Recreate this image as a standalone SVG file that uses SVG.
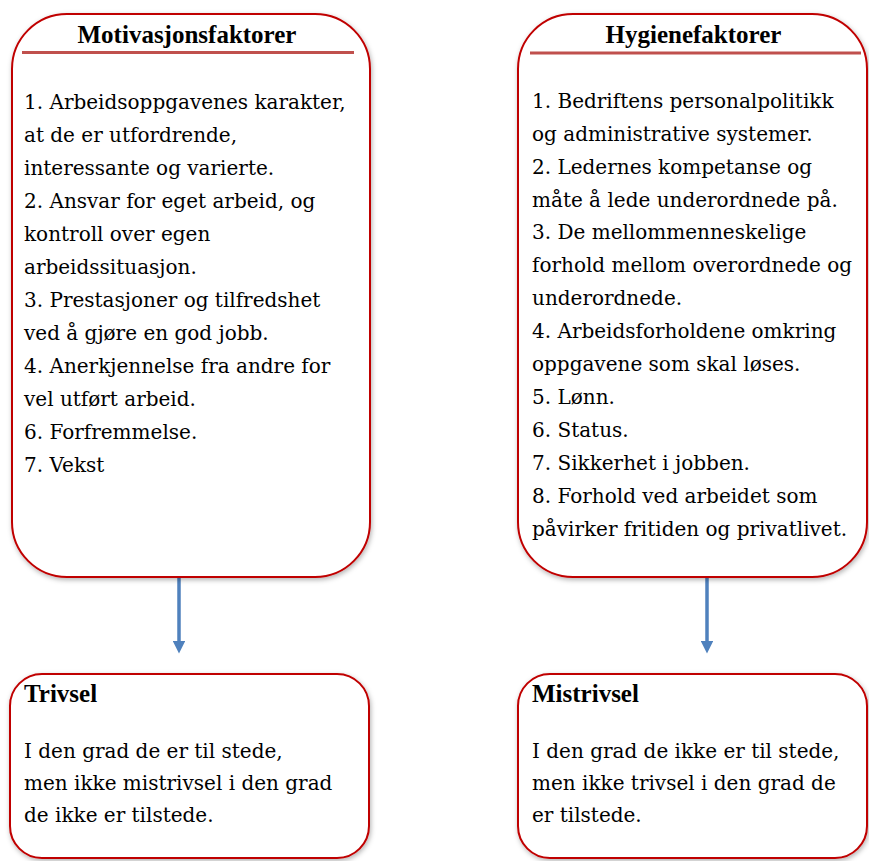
<svg xmlns="http://www.w3.org/2000/svg" width="869" height="861" viewBox="0 0 869 861">
  <defs>
    <filter id="sh" x="-10%" y="-10%" width="120%" height="120%">
      <feDropShadow dx="1" dy="2" stdDeviation="2.5" flood-color="#000" flood-opacity="0.3"/>
    </filter>
    <marker id="ah" markerWidth="3.6" markerHeight="3.6" refX="0" refY="1.8" orient="auto" markerUnits="strokeWidth">
      <path d="M0,0 L3.6,1.8 L0,3.6 Z" fill="#4f81bd"/>
    </marker>
  </defs>
  <style>
    .box { fill: #ffffff; stroke: #c00000; stroke-width: 2; filter: url(#sh); }
    .rule { stroke: #c0504d; stroke-width: 3; }
    text { font-family: "DejaVu Serif", serif; font-size: 20px; fill: #000; }
    .b { font-family: "Liberation Serif", serif; font-size: 25px; font-weight: bold; }
    .conn { stroke: #4f81bd; stroke-width: 3.5; fill: none; }
  </style>
  <rect width="869" height="861" fill="#ffffff"/>

  <g id="connectors">
    <line class="conn" x1="179" y1="578" x2="179" y2="641" marker-end="url(#ah)"/>
    <line class="conn" x1="707" y1="578" x2="707" y2="641" marker-end="url(#ah)"/>
  </g>

  <g id="motivasjonsfaktorer">
    <rect class="box" x="12" y="14" width="358" height="563" rx="55" ry="55"/>
    <text class="b" x="187" y="43" text-anchor="middle">Motivasjonsfaktorer</text>
    <line class="rule" x1="22" y1="52.5" x2="354" y2="52.5"/>
    <text x="24" y="109">1. Arbeidsoppgavenes karakter,</text>
    <text x="24" y="142">at de er utfordrende,</text>
    <text x="24" y="175">interessante og varierte.</text>
    <text x="24" y="208">2. Ansvar for eget arbeid, og</text>
    <text x="24" y="241">kontroll over egen</text>
    <text x="24" y="274">arbeidssituasjon.</text>
    <text x="24" y="307">3. Prestasjoner og tilfredshet</text>
    <text x="24" y="340">ved å gjøre en god jobb.</text>
    <text x="24" y="373">4. Anerkjennelse fra andre for</text>
    <text x="24" y="406">vel utført arbeid.</text>
    <text x="24" y="439">6. Forfremmelse.</text>
    <text x="24" y="472">7. Vekst</text>
  </g>

  <g id="hygienefaktorer">
    <rect class="box" x="518" y="14" width="349" height="563" rx="55" ry="55"/>
    <text class="b" x="693.5" y="43" text-anchor="middle">Hygienefaktorer</text>
    <line class="rule" x1="530" y1="53" x2="861" y2="53"/>
    <text x="532" y="108">1. Bedriftens personalpolitikk</text>
    <text x="532" y="141">og administrative systemer.</text>
    <text x="532" y="174">2. Ledernes kompetanse og</text>
    <text x="532" y="207">måte å lede underordnede på.</text>
    <text x="532" y="239">3. De mellommenneskelige</text>
    <text x="532" y="272">forhold mellom overordnede og</text>
    <text x="532" y="305">underordnede.</text>
    <text x="532" y="338">4. Arbeidsforholdene omkring</text>
    <text x="532" y="371">oppgavene som skal løses.</text>
    <text x="532" y="404">5. Lønn.</text>
    <text x="532" y="437">6. Status.</text>
    <text x="532" y="470">7. Sikkerhet i jobben.</text>
    <text x="532" y="503">8. Forhold ved arbeidet som</text>
    <text x="532" y="536">påvirker fritiden og privatlivet.</text>
  </g>

  <g id="trivsel">
    <rect class="box" x="10" y="674" width="359" height="184" rx="32" ry="32"/>
    <text class="b" x="24" y="702">Trivsel</text>
    <text x="24" y="758">I den grad de er til stede,</text>
    <text x="24" y="790">men ikke mistrivsel i den grad</text>
    <text x="24" y="822">de ikke er tilstede.</text>
  </g>

  <g id="mistrivsel">
    <rect class="box" x="518" y="674" width="349" height="184" rx="32" ry="32"/>
    <text class="b" x="532" y="702">Mistrivsel</text>
    <text x="532" y="758">I den grad de ikke er til stede,</text>
    <text x="532" y="790">men ikke trivsel i den grad de</text>
    <text x="532" y="822">er tilstede.</text>
  </g>
</svg>
